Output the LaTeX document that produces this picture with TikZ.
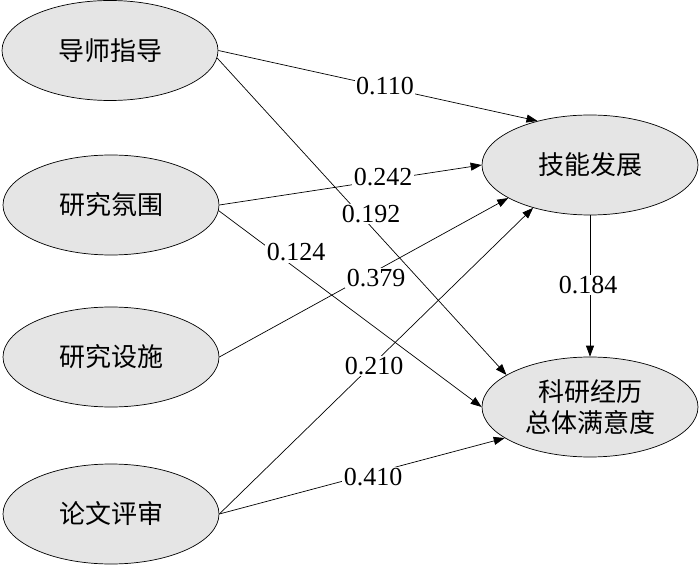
\documentclass[tikz,border=0pt]{standalone}
\usepackage{fontspec}
\setmainfont{Liberation Serif}
\newfontfamily\cjk{Noto Sans CJK SC}
\usetikzlibrary{shapes.geometric,arrows.meta}
\begin{document}
\begin{tikzpicture}[x=1pt,y=1pt,
  var/.style={ellipse,draw=black,line width=0.7pt,fill=black!10,
    minimum width=216pt,minimum height=100pt,inner sep=0pt,
    align=center,font=\cjk\fontsize{26}{31}\selectfont},
  arr/.style={line width=0.7pt,-{Triangle[length=11pt,width=8pt]}},
  lbl/.style={fill=white,inner sep=1.5pt,font=\fontsize{26}{28}\selectfont}]
\useasboundingbox (0,0) rectangle (700,565);
\node[var] (A) at (110,514.5) {导师指导};
\node[var] (B) at (111,360) {研究氛围};
\node[var] (C) at (111,208) {研究设施};
\node[var] (D) at (111,51) {论文评审};
\node[var] (E) at (590,400) {技能发展};
\node[var] (F) at (590,158) {科研经历\\总体满意度};
\draw[arr] (A.east) -- (E.140);
\draw[arr] (A.-4) -- (F.159);
\draw[arr] (B.east) -- (E.west);
\draw[arr] (B.-3) -- (F.west);
\draw[arr] (C.east) -- (E.202);
\draw[arr] (D.east) -- (E.217);
\draw[arr] (D.east) -- (F.200);
\draw[arr] (E.south) -- (F.north);
\node[lbl] (l1) at (385,479) {0.110};
\node[lbl] (l2) at (383,387.5) {0.242};
\node[lbl] (l3) at (371,351) {0.192};
\node[lbl] (l4) at (296,312.5) {0.124};
\node[lbl] (l5) at (376,287) {0.379};
\node[lbl] (l6) at (374,199) {0.210};
\node[lbl] (l7) at (373,88) {0.410};
\node[lbl] (l8) at (588,280) {0.184};
\end{tikzpicture}
\end{document}
